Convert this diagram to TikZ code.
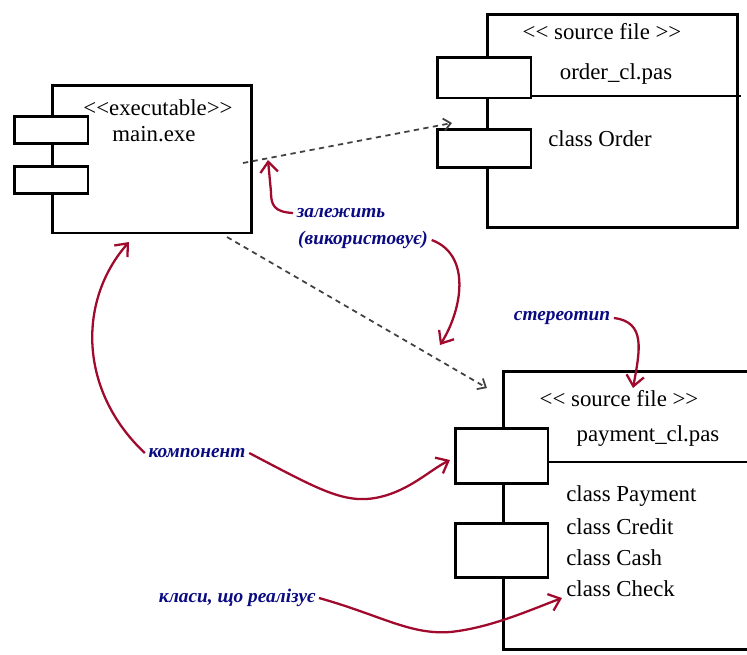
\documentclass[tikz,border=0pt]{standalone}
\usepackage{fontspec}
\setmainfont{Liberation Serif}
\usetikzlibrary{arrows.meta}

\definecolor{notered}{RGB}{160,10,45}
\definecolor{notenavy}{RGB}{10,10,130}
\newcommand{\dlt}{<\kern0pt<}
\newcommand{\dgt}{>\kern0pt>}

\begin{document}
\begin{tikzpicture}[
        x=0.02cm, y=-0.02cm,
        font=\fontsize{13pt}{17pt}\selectfont,
        compbody/.style={draw, line width=1.7pt, inner sep=0pt},
        port/.style={draw, fill=white, line width=1.7pt, inner sep=0pt},
        divider/.style={line width=1pt},
        classtext/.style={anchor=west, inner sep=0pt},
        note/.style={text=notenavy, font=\fontsize{11pt}{14pt}\selectfont\bfseries\itshape, inner sep=2pt},
        notearrow/.style={draw=notered, line width=1.3pt, -{Straight Barb[length=6pt, width=10pt]}},
        deparrow/.style={draw=black!75, line width=1pt, dash pattern=on 3pt off 2.5pt, -{Straight Barb[length=4pt, width=7pt]}}
    ]
    \useasboundingbox (0,0) rectangle (747,654);
    \clip (0,0) rectangle (747,654);

    % --- Component main.exe (Top Left) ---
    \node[compbody, minimum width=4.0cm, minimum height=2.96cm] (mainbody) at (152,159) {};
    \node[port, minimum width=1.48cm, minimum height=0.54cm] (mainport1) at (51,129.5) {};
    \node[port, minimum width=1.48cm, minimum height=0.54cm] (mainport2) at (51,179.5) {};
    \node (mainstereo) at (158,108) {\dlt executable\dgt};
    \node (mainname) at (154,134) {main.exe};

    % --- Component order_cl.pas (Top Right) ---
    \node[compbody, minimum width=5.02cm, minimum height=4.28cm] (orderbody) at (612.5,121) {};
    \draw[divider] (531,96) -- (741,96);
    \node[port, minimum width=1.88cm, minimum height=0.82cm] (orderport1) at (484,77.5) {};
    \node[port, minimum width=1.88cm, minimum height=0.76cm] (orderport2) at (484,148) {};
    \node (orderstereo) at (602,32) {\dlt{} source file \dgt};
    \node (ordername) at (616,74) {order\_cl.pas};
    \node[classtext] (orderclass) at (548,139) {class Order};

    % --- Component payment_cl.pas (Bottom Right) ---
    \node[compbody, minimum width=5.14cm, minimum height=5.58cm] (paybody) at (631.5,510.5) {};
    \draw[divider] (548,462) -- (760,462);
    \node[port, minimum width=1.86cm, minimum height=1.1cm] (payport1) at (501.5,455.5) {};
    \node[port, minimum width=1.86cm, minimum height=1.08cm] (payport2) at (501.5,550) {};
    \node (paystereo) at (619,399) {\dlt{} source file \dgt};
    \node (payname) at (648,436) {payment\_cl.pas};
    \node[classtext] (payclass1) at (566,496) {class Payment};
    \node[classtext] (payclass2) at (566,527) {class Credit};
    \node[classtext] (payclass3) at (566,558) {class Cash};
    \node[classtext] (payclass4) at (566,589) {class Check};

    % Dependencies (dashed)
    \coordinate (depfrom1) at (243,163);
    \coordinate (depto1) at (452,123);
    \coordinate (depfrom2) at (227,237);
    \coordinate (depto2) at (487,388);
    \draw[deparrow] (depfrom1) -- (depto1);
    \draw[deparrow] (depfrom2) -- (depto2);

    % --- Notes ---
    \node[note] (notedep) at (341,213) {залежить};
    \node[note] (noteuses) at (363,240) {(використовує)};
    \node[note] (notestereo) at (562,318) {стереотип};
    \node[note] (notecomp) at (197,453) {компонент};
    \node[note] (noteclasses) at (237,598) {класи, що реалізує};

    % Note targets
    \coordinate (deptip1) at (268,160);
    \coordinate (deptip2) at (440,345);
    \coordinate (stereotip) at (633,388);
    \coordinate (maintip) at (129,242);
    \coordinate (porttip) at (450,460);
    \coordinate (classtip) at (562,598);

    % Note arrows
    \draw[notearrow] (notedep.west) .. controls (274,212) and (271,205) .. (271,192) -- (deptip1);
    \draw[notearrow] (noteuses.east) .. controls (472,255) and (462,310) .. (deptip2);
    \draw[notearrow] (notestereo.east) .. controls (646,322) and (640,350) .. (stereotip);
    \draw[notearrow] (notecomp.west) .. controls (78,390) and (78,300) .. (maintip);
    \draw[notearrow] (notecomp.east) .. controls (320,490) and (345,505) .. (380,497) .. controls (410,490) and (430,470) .. (porttip);
    \draw[notearrow] (noteclasses.east) .. controls (380,615) and (410,635) .. (450,632) .. controls (490,628) and (530,610) .. (classtip);

\end{tikzpicture}
\end{document}
